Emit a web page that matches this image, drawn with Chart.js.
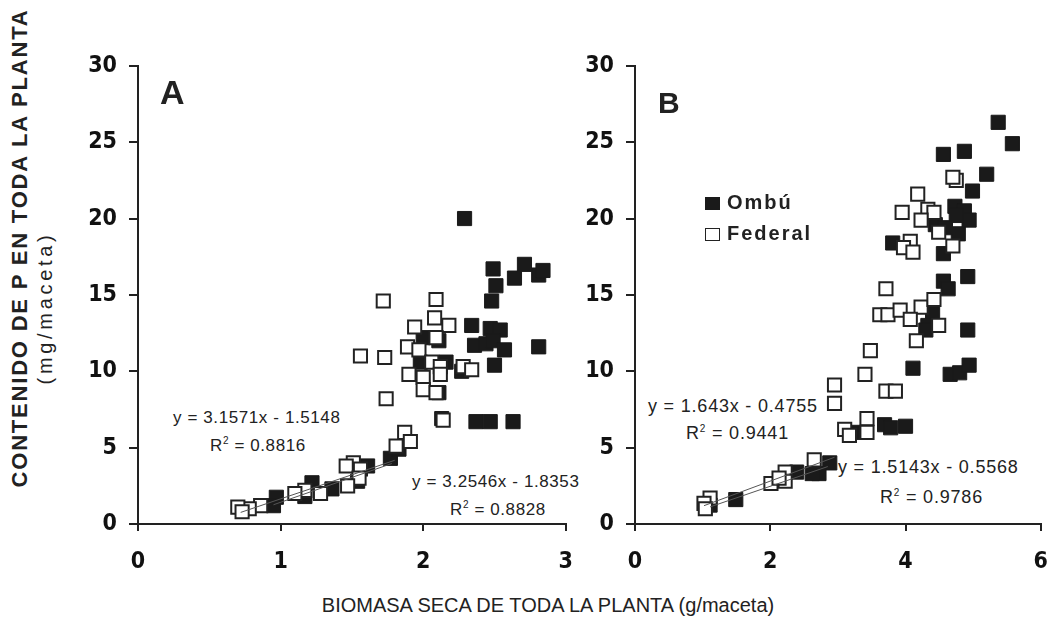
<!DOCTYPE html>
<html>
<head>
<meta charset="utf-8">
<script src="https://cdn.jsdelivr.net/npm/chart.js@4.4.1/dist/chart.umd.min.js"></script>
<style>
body{margin:0;background:#fff;width:1061px;height:623px;overflow:hidden;position:relative;font-family:'Liberation Sans',Arial,sans-serif;color:#222;}
.wrap{position:absolute;z-index:1}
.t{position:absolute;white-space:nowrap;line-height:1;z-index:0}
.eq{font-size:17px;letter-spacing:0.6px}
.eqb{font-size:18px;letter-spacing:0.8px}
.big{font-weight:bold;z-index:2}
.rot{transform:translate(-50%,-50%) rotate(-90deg)}
.leg{font-weight:bold;font-size:20px;letter-spacing:2px;z-index:2}
.sq{display:inline-block;width:15px;height:13px;margin-right:7px;box-sizing:border-box;vertical-align:-1px}
</style>
</head>
<body>

<div class="wrap" style="left:40px;top:40px;width:550px;height:545px"><canvas id="chartA"></canvas></div>
<div class="wrap" style="left:575px;top:40px;width:490px;height:545px"><canvas id="chartB"></canvas></div>

<!-- panel letters -->
<div class="t big" style="left:160px;top:75px;font-size:34px">A</div>
<div class="t big" style="left:658px;top:88px;font-size:30px">B</div>

<!-- legend -->
<div class="t leg" style="left:705px;top:192px"><span class="sq" style="background:#1a1a1a"></span>Ombú</div>
<div class="t leg" style="left:705px;top:223px"><span class="sq" style="border:1.5px solid #222;background:#fff"></span>Federal</div>

<!-- trend equations -->
<div class="t eq" style="left:173px;top:409px">y = 3.1571x - 1.5148</div>
<div class="t eq" style="left:210px;top:436px">R<sup style="font-size:10px">2</sup> = 0.8816</div>
<div class="t eq" style="left:412px;top:473px">y = 3.2546x - 1.8353</div>
<div class="t eq" style="left:450px;top:500px">R<sup style="font-size:10px">2</sup> = 0.8828</div>
<div class="t eqb" style="left:648px;top:397px">y = 1.643x - 0.4755</div>
<div class="t eqb" style="left:686px;top:424px">R<sup style="font-size:10px">2</sup> = 0.9441</div>
<div class="t eqb" style="left:838px;top:458px">y = 1.5143x - 0.5568</div>
<div class="t eqb" style="left:880px;top:488px">R<sup style="font-size:10px">2</sup> = 0.9786</div>

<!-- axis titles -->
<div class="t rot" style="left:20px;top:248px;font-size:22px;font-weight:bold;letter-spacing:1.8px">CONTENIDO DE P EN TODA LA PLANTA</div>
<div class="t rot" style="left:45px;top:308px;font-size:20px;letter-spacing:3.7px">(mg/maceta)</div>
<div class="t" style="left:548px;top:595px;font-size:20px;transform:translateX(-50%)">BIOMASA SECA DE TODA LA PLANTA (g/maceta)</div>

<script>
// tick labels
const yTicks = [0, 5, 10, 15, 20, 25, 30];
const xTicksA = [0, 1, 2, 3];
const xTicksB = [0, 2, 4, 6];

// Panel A - Ombu (filled) and Federal (open)
const ombuAX = [2.29,2.49,2.51,2.48,2.64,2.71,2.81,2.84,2.34,2.47,2.54,2.36,2.44,2.49,2.57,2.81,2.50,2.37,2.47,2.63,2.00,1.98,2.16,2.11,2.11,2.27,2.13,1.77,1.83,1.61,1.54,1.36,1.22,1.17,0.97,0.95];
const ombuAY = [20.0,16.7,15.6,14.6,16.1,17.0,16.3,16.6,13.0,12.8,12.7,11.7,11.8,12.0,11.4,11.6,10.4,6.7,6.7,6.7,12.2,10.6,10.6,8.6,12.0,10.0,6.9,4.3,4.9,3.8,2.8,2.3,2.7,1.8,1.75,1.2];
const fedAX = [1.72,2.09,2.08,2.18,1.94,2.09,1.89,1.97,1.56,1.73,2.06,2.12,2.28,2.34,1.90,2.00,2.12,2.00,2.09,1.74,2.14,1.87,1.91,1.81,1.51,1.46,1.56,1.55,1.47,1.28,1.17,1.10,0.86,0.78,0.70,0.73];
const fedAY = [14.6,14.7,13.5,13.0,12.9,12.2,11.6,11.4,11.0,10.9,10.6,10.3,10.3,10.1,9.8,9.6,9.8,8.8,8.6,8.2,6.8,6.0,5.4,5.1,4.0,3.8,3.6,3.0,2.5,2.0,2.2,2.0,1.2,1.0,1.1,0.8];

// Panel B
const ombuBX = [5.37,5.58,4.56,4.87,5.20,4.99,4.73,4.87,4.94,4.75,4.78,4.44,4.59,4.56,3.81,4.92,4.56,4.63,4.40,4.33,4.30,4.92,4.11,4.66,4.80,4.94,3.69,3.78,4.00,3.29,2.88,2.72,2.62,2.39,1.49,1.11];
const ombuBY = [26.3,24.9,24.2,24.4,22.9,21.8,20.8,20.5,19.9,20.2,19.0,19.6,19.4,17.7,18.4,16.2,15.9,15.4,13.8,13.0,12.7,12.7,10.2,9.8,9.9,10.4,6.5,6.3,6.4,6.0,4.0,3.3,3.3,3.4,1.6,1.24];
const fedBX = [4.75,4.70,4.18,3.95,4.33,4.42,4.23,4.49,4.07,3.97,4.11,4.70,3.71,3.62,3.74,3.92,4.23,4.42,4.07,4.49,4.16,3.48,3.40,3.71,3.85,2.95,2.95,3.10,3.17,3.43,3.43,2.65,2.22,2.22,2.01,2.13,1.11,1.02,1.04];
const fedBY = [22.5,22.7,21.6,20.4,20.6,20.4,19.9,19.1,18.5,18.1,17.8,18.2,15.4,13.7,13.7,14.0,14.2,14.7,13.4,13.0,12.0,11.35,9.8,8.7,8.7,9.1,7.9,6.2,5.8,6.9,6.0,4.2,3.4,2.8,2.65,3.0,1.7,1.35,1.0];

// trend line end points
const trendFedAX = [0.72, 1.80], trendFedAY = [0.76, 4.17];
const trendOmbuAX = [0.95, 1.78], trendOmbuAY = [1.26, 3.96];
const trendFedBX = [1.02, 2.95], trendFedBY = [1.20, 4.37];
const trendOmbuBX = [1.11, 2.85], trendOmbuBY = [1.12, 3.76];

const pts = (xs, ys) => xs.map((x, i) => ({x: x, y: ys[i]}));
const tickFont = {family: "'DejaVu Sans Condensed',sans-serif", size: 23, weight: 'bold'};

function trend(xs, ys) {
    return {type: 'line', data: pts(xs, ys), borderColor: '#555', borderWidth: 1, pointRadius: 0, order: 0};
}

function makeChart(id, ombu, fed, lines, xTicks, xMax, yWidth, pad) {
    new Chart(document.getElementById(id), {
        type: 'scatter',
        data: {
            datasets: [
                {label: 'Ombú', data: ombu, pointStyle: 'rect', pointRadius: 10, backgroundColor: '#1a1a1a', borderColor: '#1a1a1a', borderWidth: 1, order: 2},
                {label: 'Federal', data: fed, pointStyle: 'rect', pointRadius: 9.3, backgroundColor: '#fff', borderColor: '#222', borderWidth: 2, order: 1},
                trend(lines[0], lines[1]),
                trend(lines[2], lines[3])
            ]
        },
        options: {
            responsive: true,
            maintainAspectRatio: false,
            animation: false,
            layout: {padding: pad},
            plugins: {legend: {display: false}, tooltip: {enabled: false}},
            scales: {
                x: {
                    type: 'linear', min: 0, max: xMax,
                    afterBuildTicks: s => { s.ticks = xTicks.map(v => ({value: v})); },
                    afterFit: s => { s.height = 61; },
                    grid: {drawOnChartArea: false, drawTicks: true, tickLength: 7, color: '#222', lineWidth: 2},
                    border: {display: true, color: '#222', width: 2},
                    ticks: {font: tickFont, color: '#111', padding: 17, maxRotation: 0}
                },
                y: {
                    type: 'linear', min: 0, max: 30,
                    afterBuildTicks: s => { s.ticks = yTicks.map(v => ({value: v})); },
                    afterFit: s => { s.width = yWidth; },
                    grid: {drawOnChartArea: false, drawTicks: true, tickLength: 9, color: '#222', lineWidth: 2},
                    border: {display: true, color: '#222', width: 2},
                    ticks: {font: tickFont, color: '#111', padding: 12}
                }
            }
        }
    });
}

makeChart('chartA', pts(ombuAX, ombuAY), pts(fedAX, fedAY),
    [trendFedAX, trendFedAY, trendOmbuAX, trendOmbuAY], xTicksA, 3, 98, {top: 17, right: 20});
makeChart('chartB', pts(ombuBX, ombuBY), pts(fedBX, fedBY),
    [trendFedBX, trendFedBY, trendOmbuBX, trendOmbuBY], xTicksB, 6, 60, {top: 24, right: 7});
</script>
</body>
</html>
